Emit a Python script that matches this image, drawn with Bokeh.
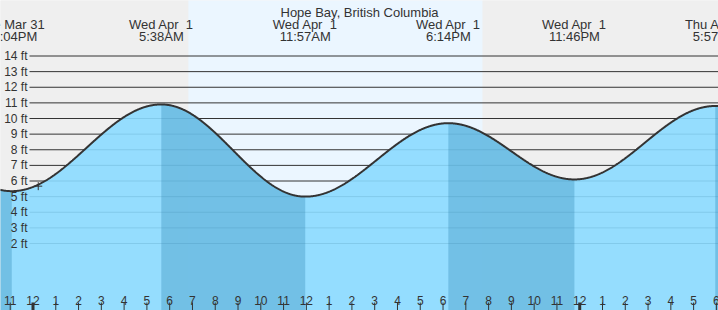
import numpy as np
from bokeh.plotting import figure
from bokeh.core.properties import value
from bokeh.embed import file_html
from bokeh.resources import INLINE

# ---------------- data (hours relative to Wed Apr 1, 00:00) ----------------
title = "Hope Bay, British Columbia"
event_hours = [-0.933, 5.633, 11.95, 18.233, 23.767, 29.95]
event_heights = [5.35, 10.9, 5.0, 9.7, 6.1, 10.8]
# the gap before a one-digit day is two spaces (first kept as a no-break space)
event_dates = ["Tue Mar 31", "Wed Apr\u00a0 1", "Wed Apr\u00a0 1", "Wed Apr\u00a0 1",
               "Wed Apr\u00a0 1", "Thu Apr\u00a0 2"]
event_times = ["11:04PM", "5:38AM", "11:57AM", "6:14PM", "11:46PM", "5:57AM"]
# extremes just outside the visible window (estimated, only shape the curve ends)
outer_hours = [-7.3, 36.6]
outer_heights = [10.8, 4.8]
sunrise_hour = 6.82
sunset_hour = 19.73
now_hour = 0.23
now_height = 5.67
hour_ticks = list(range(-1, 31))
hour_labels = ["11", "12", "1", "2", "3", "4", "5", "6", "7", "8", "9", "10", "11",
               "12", "1", "2", "3", "4", "5", "6", "7", "8", "9", "10", "11",
               "12", "1", "2", "3", "4", "5", "6"]
midnight_hours = [0, 24]
height_ticks = [2, 3, 4, 5, 6, 7, 8, 9, 10, 11, 12, 13, 14]
height_labels = ["2 ft", "3 ft", "4 ft", "5 ft", "6 ft", "7 ft", "8 ft", "9 ft",
                 "10 ft", "11 ft", "12 ft", "13 ft", "14 ft"]

# ---------------- layout ----------------
W, H = 718, 310
PX_PER_HOUR = 22.78
MIDNIGHT_PX = 32.5
PX_PER_FT = 15.625
FT14_PY = 55.5
X_START = -MIDNIGHT_PX / PX_PER_HOUR
X_END = (W - MIDNIGHT_PX) / PX_PER_HOUR
Y_TOP = 14 + FT14_PY / PX_PER_FT
Y_BOTTOM = 14 - (H - FT14_PY) / PX_PER_FT


def xpx(px):
    return X_START + px / PX_PER_HOUR


def ypx(py):
    return Y_TOP - py / PX_PER_FT


FONT = value("Liberation Sans")
TXT = "#333333"

# tide curve: cosine interpolation between successive high/low events
all_h = [outer_hours[0]] + event_hours + [outer_hours[1]]
all_v = [outer_heights[0]] + event_heights + [outer_heights[1]]


def tide(t):
    t = np.asarray(t, dtype=float)
    out = np.zeros_like(t)
    for i in range(len(all_h) - 1):
        t0, t1 = all_h[i], all_h[i + 1]
        v0, v1 = all_v[i], all_v[i + 1]
        m = (t >= t0) & (t <= t1)
        ph = (t[m] - t0) / (t1 - t0)
        out[m] = v0 + (v1 - v0) * (1 - np.cos(np.pi * ph)) / 2
    return out


p = figure(width=W, height=H, x_range=(X_START, X_END), y_range=(Y_BOTTOM, Y_TOP),
           toolbar_location=None, output_backend="svg", min_border=0,
           x_axis_type=None, y_axis_type=None)
p.grid.visible = False
p.outline_line_color = None
p.background_fill_color = "#efefef"
p.border_fill_color = "#efefef"

# night / day background
p.quad(left=[X_START - 1, sunset_hour], right=[sunrise_hour, X_END + 1],
       bottom=Y_BOTTOM - 1, top=Y_TOP + 1, fill_color="#efefef", line_color=None)
p.quad(left=[sunrise_hour], right=[sunset_hour],
       bottom=Y_BOTTOM - 1, top=Y_TOP + 1, fill_color="#ebf6ff", line_color=None)

# horizontal foot lines
p.segment(x0=xpx(29), x1=X_END + 1, y0=height_ticks, y1=height_ticks,
          line_color="#333333", line_width=1)

# water
t = np.arange(X_START - 0.2, X_END + 0.2, 0.02)
v = tide(t)
p.varea(x=t, y1=Y_BOTTOM - 1, y2=v, fill_color=(139, 218, 255), fill_alpha=0.9)

# falling tide bands (high -> low)
for i in range(len(all_h) - 1):
    if all_v[i + 1] < all_v[i]:
        a, b = max(all_h[i], X_START - 0.2), min(all_h[i + 1], X_END + 0.2)
        if b <= a:
            continue
        tt = np.concatenate([[a], t[(t > a) & (t < b)], [b]])
        p.varea(x=tt, y1=Y_BOTTOM - 1, y2=tide(tt), fill_color=(30, 120, 170), fill_alpha=0.29)

p.line(t, v, line_color="#333333", line_width=2)

# hour ticks
reg = [h for h in hour_ticks if h not in midnight_hours]
p.segment(x0=reg, x1=reg, y0=ypx(302), y1=Y_BOTTOM - 1, line_color="#333333", line_width=1)
p.segment(x0=midnight_hours, x1=midnight_hours, y0=ypx(302), y1=Y_BOTTOM - 1,
          line_color="#333333", line_width=3)
p.text(x=hour_ticks, y=ypx(300), text=hour_labels, text_align="center",
       text_baseline="alphabetic", text_font=FONT, text_font_size="12px", text_color=TXT)

# foot labels
p.text(x=xpx(27), y=height_ticks, text=height_labels, text_align="right",
       text_baseline="middle", text_font=FONT, text_font_size="12px", text_color=TXT)

# header event labels
p.text(x=event_hours, y=ypx(24), text=event_dates, text_align="center",
       text_baseline="alphabetic", text_font=FONT, text_font_size="13px", text_color=TXT)
p.text(x=event_hours, y=ypx(36), text=event_times, text_align="center",
       text_baseline="alphabetic", text_font=FONT, text_font_size="13px", text_color=TXT)

# title
p.text(x=[(X_START + X_END) / 2], y=[ypx(11.5)], text=[title], text_align="center",
       text_baseline="alphabetic", text_font=FONT, text_font_size="13px", text_color=TXT)

# current time marker
p.scatter(x=[now_hour], y=[now_height], marker="cross", size=8,
          line_color="#333333", line_width=1)

open("out.html", "w").write(file_html(p, INLINE))
